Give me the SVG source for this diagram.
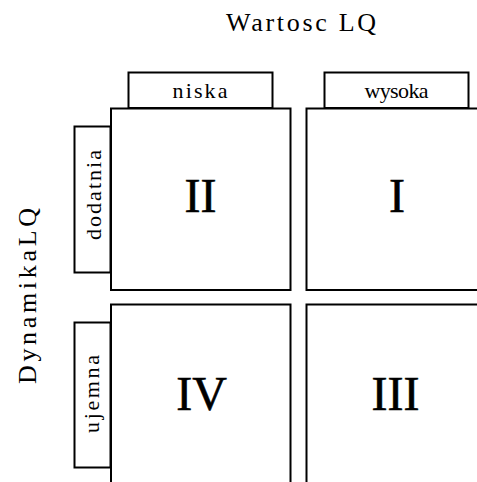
<svg xmlns="http://www.w3.org/2000/svg" width="477" height="482" viewBox="0 0 477 482">
<style>
.box{fill:#fff;stroke:#000;stroke-width:2}
.t{font-family:"Liberation Serif","Times New Roman",serif;fill:#000;text-anchor:middle}
.title{font-size:26px}
.lab{font-size:22px}
.num{font-size:48px;stroke:#000;stroke-width:0.6}
</style>
<rect width="477" height="482" fill="#fff"/>
<g id="title-x"><text class="t title" x="301" y="31" textLength="150" lengthAdjust="spacing">Wartosc LQ</text></g>
<g id="title-y"><text class="t title" transform="translate(36,296) rotate(-90)" textLength="176" lengthAdjust="spacing">DynamikaLQ</text></g>
<g id="col-niska"><rect class="box" x="128.5" y="72.5" width="144" height="35.5"/><text class="t lab" x="200" y="97.5" textLength="55" lengthAdjust="spacing">niska</text></g>
<g id="col-wysoka"><rect class="box" x="324.5" y="72.5" width="144" height="35.5"/><text class="t lab" x="396.5" y="97.5" textLength="64" lengthAdjust="spacing">wysoka</text></g>
<g id="row-dodatnia"><rect class="box" x="74.5" y="126.5" width="36" height="146"/><text class="t lab" transform="translate(101,195) rotate(-90)" textLength="90" lengthAdjust="spacing">dodatnia</text></g>
<g id="row-ujemna"><rect class="box" x="74.5" y="322.5" width="36" height="145"/><text class="t lab" transform="translate(99,394) rotate(-90)" textLength="78" lengthAdjust="spacing">ujemna</text></g>
<g id="q2"><rect class="box" x="111" y="108.5" width="179.5" height="181.5"/><text class="t num" x="200.5" y="211.5">II</text></g>
<g id="q1"><rect class="box" x="306.5" y="108.5" width="180" height="181.5"/><text class="t num" x="397" y="211.5">I</text></g>
<g id="q4"><rect class="box" x="111" y="304.5" width="179.5" height="186"/><text class="t num" x="201.5" y="409.5">IV</text></g>
<g id="q3"><rect class="box" x="306.5" y="304.5" width="180" height="186"/><text class="t num" x="395.5" y="409.5">III</text></g>
<g id="connectors"></g>
</svg>
